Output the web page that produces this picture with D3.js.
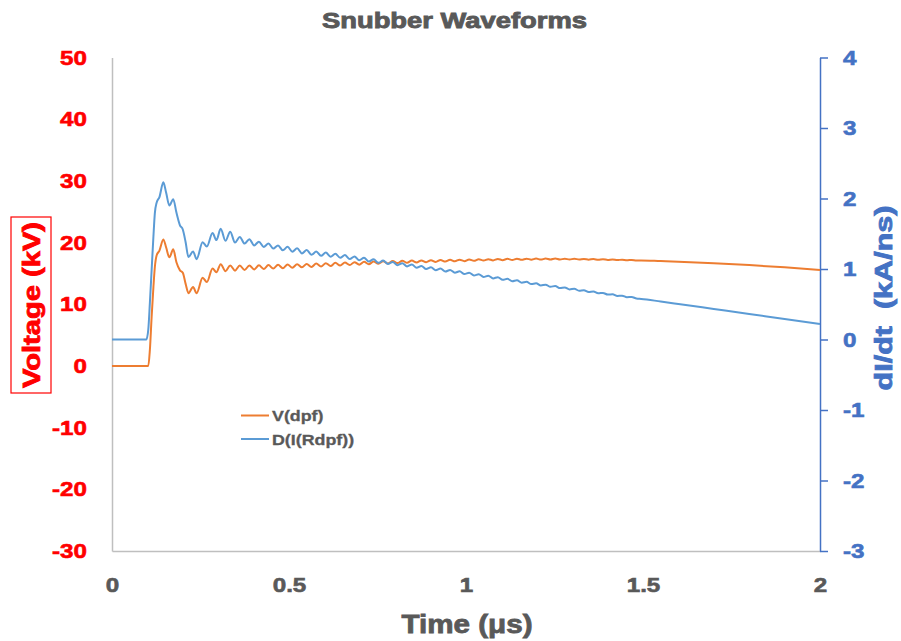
<!DOCTYPE html>
<html>
<head>
<meta charset="utf-8">
<script src="https://cdn.jsdelivr.net/npm/d3@7"></script>
<style>
  body { margin: 0; background: #fff; }
  text { font-family: "Liberation Sans", Arial, sans-serif; font-weight: bold; }
</style>
</head>
<body>
<svg id="chart" width="901" height="641"></svg>
<script>
// time in microseconds, shared by both traces
var time = [
  0, 0.097, 0.1025, 0.107, 0.112, 0.117, 0.121, 0.126, 0.134, 0.145,
  0.153, 0.162, 0.173, 0.182, 0.192, 0.200, 0.208, 0.216, 0.229, 0.239,
  0.256, 0.268, 0.284, 0.295,
  0.307, 0.3205, 0.334, 0.3475, 0.361, 0.3745, 0.388, 0.4015, 0.415, 0.4285,
  0.442, 0.4555, 0.469, 0.4825, 0.496, 0.5095, 0.523, 0.5365, 0.550, 0.5635,
  0.577, 0.5905, 0.604, 0.6175, 0.631, 0.6445, 0.658, 0.6715, 0.685, 0.6985,
  0.712, 0.7255, 0.739, 0.7525, 0.766, 0.7795, 0.793, 0.8065, 0.820, 0.8335,
  0.847, 0.8605, 0.874, 0.8875, 0.901, 0.9145, 0.928, 0.9415, 0.955, 0.9685,
  0.982, 0.9955, 1.009, 1.0225, 1.036, 1.0495, 1.063, 1.0765, 1.090, 1.1035,
  1.117, 1.1305, 1.144, 1.1575, 1.171, 1.1845, 1.198, 1.2115, 1.225, 1.2385,
  1.252, 1.2655, 1.279, 1.2925, 1.306, 1.3195, 1.333, 1.3465, 1.360, 1.3735,
  1.387, 1.4005, 1.414, 1.4275, 1.441, 1.4545, 1.468, 1.4815, 1.495,
  1.55, 1.6, 1.7, 1.8, 1.9, 2.0
];

// V(dpf) in kV
var voltage = [
  0, 0, 0, 2.6, 8.0, 12.8, 16.0, 17.9, 18.7, 20.5,
  19.2, 17.6, 18.9, 16.8, 15.5, 15.1, 13.3, 11.8, 12.8, 11.8,
  14.3, 13.6, 15.8, 15.2,
  16.5, 15.35, 16.3, 15.45, 16.28, 15.55, 16.28, 15.65, 16.31, 15.72,
  16.35, 15.78, 16.39, 15.84, 16.44, 15.91, 16.49, 15.98, 16.54, 16.05,
  16.59, 16.12, 16.66, 16.20, 16.71, 16.27, 16.76, 16.35, 16.82, 16.42,
  16.87, 16.49, 16.92, 16.56, 16.97, 16.62, 17.01, 16.67, 17.05, 16.72,
  17.08, 16.77, 17.11, 16.82, 17.14, 16.86, 17.18, 16.91, 17.21, 16.96,
  17.23, 16.99, 17.27, 17.04, 17.29, 17.08, 17.31, 17.11, 17.34, 17.15,
  17.36, 17.18, 17.38, 17.20, 17.39, 17.23, 17.40, 17.24, 17.40, 17.25,
  17.40, 17.25, 17.39, 17.25, 17.38, 17.24, 17.35, 17.23, 17.33, 17.21,
  17.30, 17.18, 17.27, 17.16, 17.23, 17.13, 17.19, 17.10, 17.11,
  17.0, 16.9, 16.65, 16.35, 15.98, 15.55
];

// D(I(Rdpf)) in kA/ns
var didt = [
  0, 0, 0.14, 0.52, 0.99, 1.46, 1.79, 1.94, 2.02, 2.23,
  2.08, 1.90, 1.99, 1.80, 1.62, 1.56, 1.38, 1.17, 1.25, 1.14,
  1.38, 1.32, 1.51, 1.41,
  1.57, 1.40, 1.53, 1.375, 1.455, 1.36, 1.422, 1.335, 1.388, 1.313,
  1.361, 1.29, 1.335, 1.265, 1.315, 1.246, 1.294, 1.221, 1.268, 1.202,
  1.247, 1.187, 1.233, 1.174, 1.217, 1.159, 1.199, 1.141, 1.179, 1.123,
  1.159, 1.105, 1.139, 1.087, 1.12, 1.071, 1.101, 1.054, 1.082, 1.037,
  1.063, 1.018, 1.044, 1.000, 1.025, 0.982, 1.006, 0.964, 0.986, 0.947,
  0.967, 0.928, 0.947, 0.908, 0.926, 0.887, 0.904, 0.867, 0.883, 0.846,
  0.861, 0.826, 0.840, 0.805, 0.818, 0.786, 0.798, 0.766, 0.778, 0.748,
  0.759, 0.729, 0.739, 0.711, 0.720, 0.692, 0.700, 0.674, 0.681, 0.655,
  0.661, 0.637, 0.642, 0.618, 0.622, 0.600, 0.603, 0.581, 0.576,
  0.539, 0.504, 0.433, 0.362, 0.29, 0.22
];

var xTicks = [0, 0.5, 1, 1.5, 2];
var leftTicks = [-30, -20, -10, 0, 10, 20, 30, 40, 50];
var rightTicks = [-3, -2, -1, 0, 1, 2, 3, 4];
var seriesNames = ["V(dpf)", "D(I(Rdpf))"];

var svg = d3.select('#chart');
var plotLeft = 112, plotRight = 820, plotTop = 57.5, plotBottom = 551;

var x = d3.scaleLinear().domain([0, 2]).range([plotLeft, plotRight]);
var yL = d3.scaleLinear().domain([-30, 50]).range([plotBottom, plotTop]);
var yR = d3.scaleLinear().domain([-3, 4]).range([plotBottom, plotTop]);

// stretch bold text so it looks like the heavy wide face of the original
function widen(sel, f) {
  sel.each(function () {
    var w = this.getComputedTextLength();
    d3.select(this).attr('textLength', w * f).attr('lengthAdjust', 'spacingAndGlyphs');
  });
}

// left axis (voltage)
var gL = svg.append('g').attr('transform', 'translate(' + plotLeft + ',0)')
  .call(d3.axisLeft(yL).tickValues(leftTicks).tickSize(0).tickPadding(25).tickFormat(d => String(d)));
gL.select('.domain').attr('stroke', '#bfbfbf').attr('stroke-width', 1.5);
gL.selectAll('text').attr('fill', '#ff0000').style('font-size', '20.5px')
  .attr('stroke', '#ff0000').attr('stroke-width', 0.6);
widen(gL.selectAll('text'), 1.18);

// bottom axis
var gB = svg.append('g').attr('transform', 'translate(0,' + plotBottom + ')')
  .call(d3.axisBottom(x).tickValues(xTicks).tickSize(0).tickPadding(26).tickFormat(d => String(d)));
gB.select('.domain').attr('stroke', '#bfbfbf').attr('stroke-width', 1.5);
gB.selectAll('text').attr('fill', '#595959').style('font-size', '20.5px')
  .attr('stroke', '#595959').attr('stroke-width', 0.6);
widen(gB.selectAll('text'), 1.18);

// right axis (dI/dt)
var gR = svg.append('g').attr('transform', 'translate(' + plotRight + ',0)')
  .call(d3.axisRight(yR).tickValues(rightTicks).tickSize(8).tickSizeOuter(0).tickPadding(15).tickFormat(d => String(d)));
gR.select('.domain').attr('stroke', '#4472c4').attr('stroke-width', 1.5);
gR.selectAll('line').attr('stroke', '#4472c4').attr('stroke-width', 1.5);
gR.selectAll('text').attr('fill', '#4472c4').style('font-size', '20.5px')
  .attr('stroke', '#4472c4').attr('stroke-width', 0.6);
widen(gR.selectAll('text'), 1.18);

// traces
var lineV = d3.line().x((d, i) => x(time[i])).y(d => yL(d)).curve(d3.curveMonotoneX);
var lineD = d3.line().x((d, i) => x(time[i])).y(d => yR(d)).curve(d3.curveMonotoneX);

svg.append('path').datum(voltage).attr('d', lineV)
  .attr('fill', 'none').attr('stroke', '#ed7d31').attr('stroke-width', 2);
svg.append('path').datum(didt).attr('d', lineD)
  .attr('fill', 'none').attr('stroke', '#5b9bd5').attr('stroke-width', 2);

// title and axis titles
svg.append('text').attr('x', 454.5).attr('y', 28).attr('text-anchor', 'middle')
  .attr('fill', '#595959').attr('stroke', '#595959').attr('stroke-width', 0.9)
  .style('font-size', '22.5px')
  .attr('textLength', 265).attr('lengthAdjust', 'spacingAndGlyphs')
  .text('Snubber Waveforms');

svg.append('text').attr('x', 467).attr('y', 633).attr('text-anchor', 'middle')
  .attr('fill', '#595959').attr('stroke', '#595959').attr('stroke-width', 0.8)
  .style('font-size', '25px')
  .attr('textLength', 131).attr('lengthAdjust', 'spacingAndGlyphs')
  .text('Time (\u03bcs)');

svg.append('rect').attr('x', 11).attr('y', 217).attr('width', 40).attr('height', 176)
  .attr('fill', 'none').attr('stroke', '#ff0000').attr('stroke-width', 1.2);
svg.append('text').attr('transform', 'translate(39.5,305) rotate(-90)').attr('text-anchor', 'middle')
  .attr('fill', '#ff0000').attr('stroke', '#ff0000').attr('stroke-width', 0.8)
  .style('font-size', '23.5px')
  .attr('textLength', 166).attr('lengthAdjust', 'spacingAndGlyphs')
  .text('Voltage (kV)');

svg.append('text').attr('transform', 'translate(892,298) rotate(-90)').attr('text-anchor', 'middle')
  .attr('fill', '#4472c4').attr('stroke', '#4472c4').attr('stroke-width', 0.8)
  .style('font-size', '23px').style('white-space', 'pre')
  .attr('textLength', 185).attr('lengthAdjust', 'spacingAndGlyphs')
  .text('dI/dt  (kA/ns)');

// legend
var legendColors = ['#ed7d31', '#5b9bd5'];
var legend = svg.selectAll('.legend').data(seriesNames).enter().append('g')
  .attr('class', 'legend')
  .attr('transform', (d, i) => 'translate(241,' + (415.5 + i * 23.5) + ')');
legend.append('line').attr('x1', 0).attr('x2', 28).attr('y1', 0).attr('y2', 0)
  .attr('stroke', (d, i) => legendColors[i]).attr('stroke-width', 2);
legend.append('text').attr('x', 31).attr('dy', '0.36em')
  .attr('fill', '#595959').attr('stroke', '#595959').attr('stroke-width', 0.3)
  .style('font-size', '15.5px')
  .text(d => d);
widen(legend.selectAll('text'), 1.15);
</script>
</body>
</html>
